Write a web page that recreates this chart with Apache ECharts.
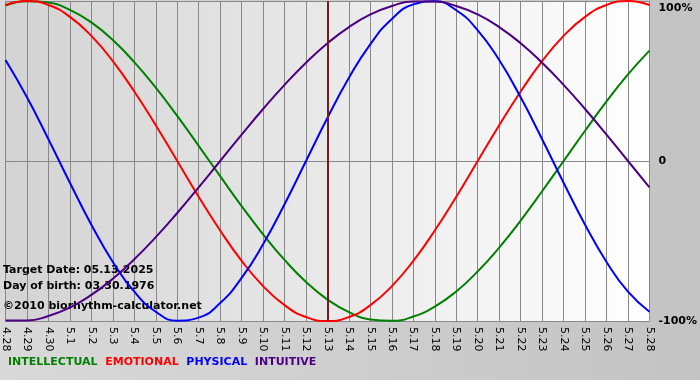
<!DOCTYPE html>
<html>
<head>
<meta charset="utf-8">
<script src="https://cdn.jsdelivr.net/npm/echarts@6/dist/echarts.min.js"></script>
<style>
html,body{margin:0;padding:0;}
#c{width:700px;height:380px;}
</style>
</head>
<body>
<div id="c"></div>
<script>
var categories = ['4.28','4.29','4.30','5.1','5.2','5.3','5.4','5.5','5.6','5.7','5.8','5.9','5.10','5.11','5.12','5.13','5.14','5.15','5.16','5.17','5.18','5.19','5.20','5.21','5.22','5.23','5.24','5.25','5.26','5.27','5.28'];
var targetDay = '5.13';
var yTicks = [-100, 0, 100];
var intellectual = [97.2,99.9,99.0,94.5,86.6,75.6,61.8,45.8,28.2,9.5,-9.5,-28.2,-45.8,-61.8,-75.6,-86.6,-94.5,-99.0,-99.9,-97.2,-91.0,-81.5,-69.0,-54.1,-37.2,-18.9,0,18.9,37.2,54.1,69.0];
var emotional = [97.5,100,97.5,90.1,78.2,62.4,43.4,22.3,0,-22.3,-43.4,-62.4,-78.2,-90.1,-97.5,-100,-97.5,-90.1,-78.2,-62.4,-43.4,-22.3,0,22.3,43.4,62.4,78.2,90.1,97.5,100,97.5];
var physical = [63.1,39.8,13.6,-13.6,-39.8,-63.1,-81.7,-94.2,-99.8,-97.9,-88.8,-73.1,-52.0,-27.0,0,27.0,52.0,73.1,88.8,97.9,99.8,94.2,81.7,63.1,39.8,13.6,-13.6,-39.8,-63.1,-81.7,-94.2];
var intuitive = [-99.7,-99.7,-96.9,-91.6,-83.7,-73.6,-61.4,-47.6,-32.5,-16.5,0,16.5,32.5,47.6,61.4,73.6,83.7,91.6,96.9,99.7,99.7,96.9,91.6,83.7,73.6,61.4,47.6,32.5,16.5,0,-16.5];
var seriesNames = ['INTELLECTUAL','EMOTIONAL','PHYSICAL','INTUITIVE'];
var infoLines = ['Target Date: 05.13.2025','Day of birth: 03.30.1976','\u00a92010 biorhythm-calculator.net'];

var colors = {INTELLECTUAL:'#008000', EMOTIONAL:'#ff0000', PHYSICAL:'#0000ff', INTUITIVE:'#4b0082'};
var dataMap = {INTELLECTUAL:intellectual, EMOTIONAL:emotional, PHYSICAL:physical, INTUITIVE:intuitive};
var FONT = 'DejaVu Sans';

var chart = echarts.init(document.getElementById('c'), null, {renderer:'canvas'});

var series = seriesNames.map(function(n){
  return {
    name:n, type:'line', data:dataMap[n], smooth:true, showSymbol:false, symbol:'none',
    lineStyle:{color:colors[n], width:2}, itemStyle:{color:colors[n]}, z:3, silent:true
  };
});
series[0].markLine = {
  silent:true, symbol:['none','none'], label:{show:false},
  lineStyle:{color:'#7a1c1c', width:2, type:'solid'},
  data:[{xAxis:targetDay}], z:5
};

var legendRich = {};
var legendStr = seriesNames.map(function(n,i){
  legendRich['s'+i] = {fill:colors[n], color:colors[n], fontFamily:FONT, fontWeight:'bold', fontSize:11};
  return '{s'+i+'|'+n+'}';
}).join('  ');

var option = {
  animation:false,
  backgroundColor:new echarts.graphic.LinearGradient(0,0,1,0,[{offset:0,color:'#d9d9d9'},{offset:1,color:'#c3c3c3'}]),
  grid:{left:0, right:50, top:1, bottom:59, show:true, borderWidth:0,
    backgroundColor:new echarts.graphic.LinearGradient(0,0,1,0,[{offset:0,color:'#d3d3d3'},{offset:1,color:'#ffffff'}])},
  xAxis:{
    type:'category', data:categories, boundaryGap:false,
    axisLine:{show:true, lineStyle:{color:'#888888', width:1}},
    axisTick:{show:true, length:4, interval:0, lineStyle:{color:'#888888'}},
    axisLabel:{interval:0, rotate:-90, margin:6, color:'#000', fontFamily:FONT, fontSize:11},
    splitLine:{show:true, interval:0, lineStyle:{color:'#888888', width:1}}
  },
  yAxis:{
    type:'value', position:'right', min:yTicks[0], max:yTicks[2], interval:100,
    axisLine:{show:false}, axisTick:{show:false},
    axisLabel:{margin:9, color:'#000', fontFamily:FONT, fontWeight:'bold', fontSize:11,
      formatter:function(v){ if(v===100) return '{t|100%}'; if(v===0) return '0'; return v+'%'; },
      rich:{t:{fontFamily:FONT, fontWeight:'bold', fontSize:11, color:'#000', padding:[14,0,0,0]}}},
    splitLine:{show:true, lineStyle:{color:'#888888', width:1}}
  },
  graphic:[
    {type:'text', left:3, top:265, z:1, style:{text:infoLines[0], fill:'#000', font:'bold 11px "'+FONT+'"'}},
    {type:'text', left:3, top:281, z:1, style:{text:infoLines[1], fill:'#000', font:'bold 11px "'+FONT+'"'}},
    {type:'text', left:3, top:301, z:1, style:{text:infoLines[2], fill:'#000', font:'bold 11px "'+FONT+'"'}},
    {type:'text', left:8, top:357, z:10, style:{text:legendStr, rich:legendRich, font:'bold 11px "'+FONT+'"'}}
  ],
  series:series
};
chart.setOption(option);
</script>
</body>
</html>
